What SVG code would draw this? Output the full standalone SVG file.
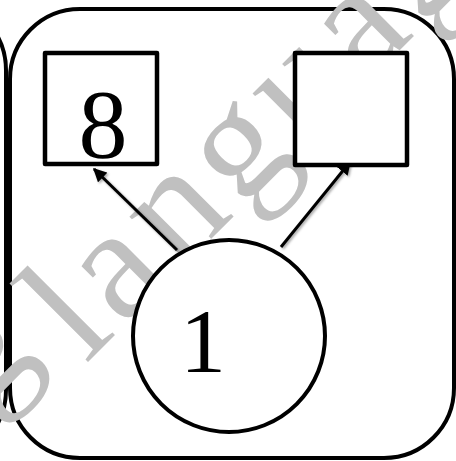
<svg xmlns="http://www.w3.org/2000/svg" width="456" height="461" viewBox="0 0 456 461">
<style>
.frame{fill:none;stroke:#000;stroke-width:4}
.box{fill:#fff;stroke:#000;stroke-width:4.5;stroke-linejoin:round}
.node{fill:#fff;stroke:#000;stroke-width:4}
.lbl{font-family:"Liberation Serif","Times New Roman",serif;fill:#000;text-anchor:middle}
.wm{font-family:"Liberation Serif","Times New Roman",serif;fill:#c0c0c0;font-size:160px;letter-spacing:8px}
.edge{stroke:#000;stroke-width:3;fill:none;marker-end:url(#ah)}
</style>
<defs>
<marker id="ah" viewBox="0 0 10 10" refX="9" refY="5" markerWidth="4.5" markerHeight="4.5" orient="auto" markerUnits="strokeWidth">
<path d="M0,0 L10,5 L0,10 z" fill="#000"/>
</marker>
<filter id="sh" x="-20%" y="-20%" width="140%" height="140%">
<feDropShadow dx="1.5" dy="1.5" stdDeviation="1.2" flood-color="#000" flood-opacity="0.35"/>
</filter>
</defs>
<rect width="456" height="461" fill="#fff"/>
<g id="frames">
<rect class="frame" x="-400" y="0" width="406" height="460" rx="70"/>
<rect class="frame" x="10" y="9" width="444" height="449" rx="70"/>
</g>
<text class="wm" transform="translate(-10.5,460.5) rotate(-45)"><tspan dx="30" dy="-40">g</tspan><tspan dx="-30" dy="40"> languag</tspan></text>
<g id="connectors" filter="url(#sh)">
<line class="edge" x1="177" y1="250" x2="94" y2="169"/>
<line class="edge" x1="281" y1="247" x2="350" y2="162"/>
</g>
<g id="node-8">
<rect class="box" x="45" y="53" width="112" height="111"/>
<text class="lbl" x="103" y="157" font-size="98">8</text>
</g>
<g id="node-empty">
<rect class="box" x="295" y="53" width="112" height="112"/>
</g>
<g id="node-1">
<circle class="node" cx="229" cy="336" r="96"/>
<text class="lbl" x="203" y="372" font-size="92">1</text>
</g>
</svg>
